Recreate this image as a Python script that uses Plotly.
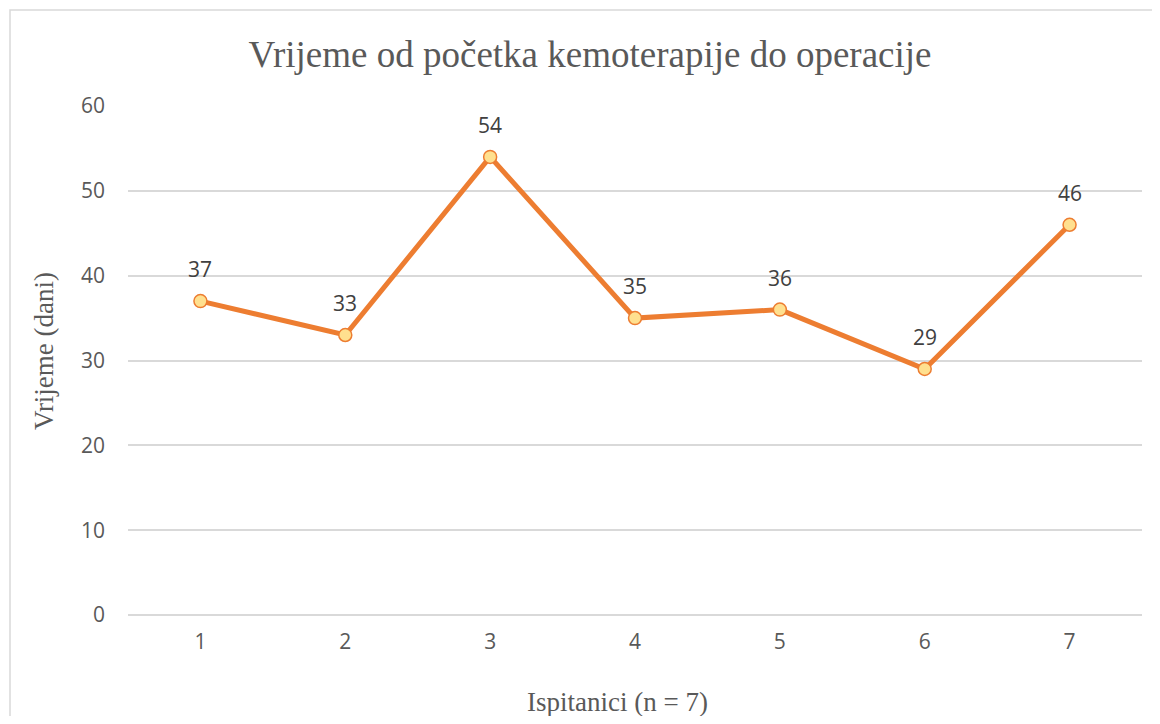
import plotly.graph_objects as go

ispitanici = [1, 2, 3, 4, 5, 6, 7]
vrijeme_dani = [37, 33, 54, 35, 36, 29, 46]
y_ticks = [0, 10, 20, 30, 40, 50, 60]

# page has an 8px body margin; figure sized to fit the 1160x724 window
W, H = 1144, 708
L, R, T, B = 120, 10, 98, 101
pw, ph = W - L - R, H - T - B

SANS = "Open Sans, Liberation Sans, sans-serif"
SERIF = "Liberation Serif, Times New Roman, serif"

fig = go.Figure()
fig.add_trace(go.Scatter(
    x=ispitanici, y=vrijeme_dani, mode="lines+markers",
    line=dict(color="#ED7D31", width=5),
    marker=dict(size=13, color="#FFE08F", line=dict(color="#ED7D31", width=1.5)),
    hoverinfo="x+y", showlegend=False,
))
for xv, yv in zip(ispitanici, vrijeme_dani):
    fig.add_annotation(x=xv, y=yv, text=str(yv), showarrow=False, yshift=32,
                       font=dict(family=SANS, size=21, color="#404040"))

# axis titles (positioned as in the reference, slightly off-centre)
fig.add_annotation(text="Ispitanici (n = 7)", xref="paper", yref="paper",
                   x=(617.5 - 128) / 1014, y=(615 - 702) / 509,
                   xanchor="center", yanchor="middle", showarrow=False,
                   font=dict(family=SERIF, size=27, color="#595959"))
fig.add_annotation(text="Vrijeme (dani)", xref="paper", yref="paper",
                   x=(44 - 128) / 1014, y=(615 - 351) / 509, textangle=-90,
                   xanchor="center", yanchor="middle", showarrow=False,
                   font=dict(family=SERIF, size=27, color="#595959"))

fig.add_shape(type="rect", xref="paper", yref="paper",
              x0=(2 - L) / pw, x1=(1170 - L) / pw,
              y0=(H - B - 740) / ph, y1=(H - B - 2) / ph,
              line=dict(color="#D9D9D9", width=1.5), fillcolor="rgba(0,0,0,0)", layer="below")

fig.update_layout(
    width=W, height=H,
    margin=dict(l=L, r=R, t=T, b=B),
    paper_bgcolor="white", plot_bgcolor="white",
    title=dict(text="Vrijeme od početka kemoterapije do operacije",
               x=582 / W, xanchor="center", y=1 - 46 / H, yanchor="middle",
               font=dict(family=SERIF, size=37, color="#595959")),
    xaxis=dict(range=[0.5, 7.5], tickvals=ispitanici, ticktext=[str(v) for v in ispitanici],
               showgrid=False, zeroline=False, showline=False, ticks="", ticklabelstandoff=12,
               tickfont=dict(family=SANS, size=21, color="#595959")),
    yaxis=dict(range=[0, 60], tickvals=y_ticks, showgrid=True, gridcolor="#D9D9D9", gridwidth=1.5,
               zeroline=True, zerolinecolor="#D9D9D9", zerolinewidth=1.5,
               showline=False, ticks="", ticklabelstandoff=22,
               tickfont=dict(family=SANS, size=21, color="#595959")),
)

fig.write_html("out.html")
